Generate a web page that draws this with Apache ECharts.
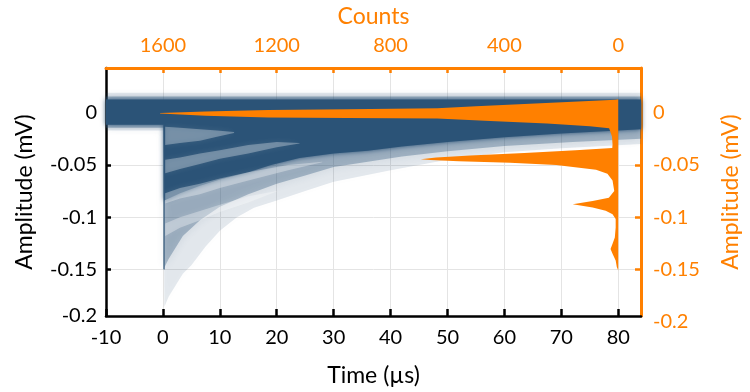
<!DOCTYPE html>
<html><head><meta charset="utf-8">
<script src="https://cdn.jsdelivr.net/npm/echarts@6/dist/echarts.min.js"></script>
<style>html,body{margin:0;padding:0;background:#fff}#c{width:750px;height:392px}</style>
</head><body><div id="c"></div>
<script>
// ---- axes ----
const timeMin = -10, timeMax = 84;
const countMin = -80, countMax = 1800;
const ampMin = -0.1945, ampMax = 0.0427;
const countTickValues = [0, 200, 400, 600, 800, 1000, 1200, 1400, 1600];
const countLabelValues = [0, 400, 800, 1200, 1600];
const ampTickValues = [0, -0.05, -0.1, -0.15];
const ampLabelValues = [0, -0.05, -0.1, -0.15, ampMin];

// ---- persistence traces (envelopes) ----
const faintT   = [-10, 0.15, 0.25, 1, 3.5, 5, 7.5, 10, 13, 16, 20, 25, 30, 40, 50, 60, 70, 84];
const faintTop = [0.019, 0.019, 0.019, 0.019, 0.019, 0.019, 0.019, 0.019, 0.019, 0.019, 0.019, 0.019, 0.019, 0.019, 0.019, 0.019, 0.019, 0.019];
const faintBot = [-0.017, -0.017, -0.186, -0.176, -0.154, -0.146, -0.128, -0.113, -0.100, -0.091, -0.084, -0.075, -0.066, -0.055, -0.045, -0.038, -0.034, -0.030];

const medT   = [-10, 0.15, 0.25, 1, 3.5, 6.5, 10, 15, 20, 25, 30, 36, 42, 50, 60, 72, 84];
const medTop = [0.0155, 0.0155, 0.0155, 0.0155, 0.0155, 0.0155, 0.0155, 0.0155, 0.0155, 0.0155, 0.0155, 0.0155, 0.0155, 0.0155, 0.0155, 0.0155, 0.0155];
const medBot = [-0.0145, -0.0145, -0.148, -0.140, -0.118, -0.103, -0.090, -0.078, -0.068, -0.060, -0.052, -0.047, -0.042, -0.037, -0.032, -0.028, -0.025];

const denseT   = [-10, 0.15, 0.25, 1, 3, 6.5, 10, 15, 19, 24, 30, 36, 42, 50, 60, 70, 80, 84];
const denseTop = [0.0125, 0.0125, 0.0125, 0.0125, 0.0125, 0.0125, 0.0125, 0.0125, 0.0125, 0.0125, 0.0125, 0.0125, 0.0125, 0.0125, 0.0125, 0.0125, 0.0125, 0.0125];
const denseBot = [-0.0115, -0.0115, -0.084, -0.082, -0.077, -0.070, -0.064, -0.057, -0.050, -0.0435, -0.039, -0.0365, -0.0325, -0.028, -0.0235, -0.020, -0.017, -0.016];

// lighter streaks between photon-number families
const gapAT = [0.4, 3, 6.5, 9.5, 12.5];
const gapATop = [-0.0135, -0.0145, -0.016, -0.017, -0.0185];
const gapABot = [-0.031, -0.029, -0.027, -0.023, -0.0195];
const gapBT = [0.4, 3, 6.5, 10, 15, 20, 24];
const gapBTop = [-0.045, -0.043, -0.039, -0.036, -0.031, -0.028, -0.029];
const gapBBot = [-0.058, -0.054, -0.049, -0.044, -0.039, -0.033, -0.0295];
const gapCT = [0.4, 3, 6.5, 10, 15, 22, 28];
const gapCTop = [-0.077, -0.072, -0.068, -0.063, -0.057, -0.050, -0.047];
const gapCBot = [-0.087, -0.082, -0.078, -0.072, -0.065, -0.055, -0.0475];
const gapDT = [0.4, 3, 6.5, 10, 15, 20];
const gapDTop = [-0.106, -0.100, -0.094, -0.088, -0.080, -0.075];
const gapDBot = [-0.118, -0.110, -0.103, -0.095, -0.086, -0.0755];

// rising edge at t = 0
const edgeT = [0.2, 0.2];
const edgeAmp = [-0.012, -0.15];

// ---- amplitude histogram (outline, top to bottom) ----
const histAmp = [0.0128, 0.0124, 0.0104, 0.0083, 0.0062, 0.0043, 0.0033, 0.0025, 0.0012, -0.0003,
  -0.0008, -0.0030, -0.0047, -0.0052, -0.0056, -0.0080, -0.0105, -0.0130, -0.0149, -0.0228, -0.0304,
  -0.0339, -0.0360, -0.0385, -0.0410, -0.0430, -0.0445, -0.0452, -0.0465, -0.0480, -0.0500, -0.0545,
  -0.0585, -0.0650, -0.0750, -0.0813, -0.0844, -0.0876, -0.0908, -0.0939, -0.0971, -0.1018, -0.1098,
  -0.1193, -0.1255, -0.1303, -0.1350, -0.1414, -0.1477, -0.1509];
const histCount = [0, 10, 160, 330, 500, 636, 950, 1230, 1450, 1610,
  1610, 1450, 1230, 950, 636, 450, 250, 100, 32, 22, 20,
  21, 150, 330, 520, 640, 694, 660, 560, 380, 218, 78,
  38, 20, 14, 33, 90, 160, 90, 44, 20, 9, 9,
  12, 20, 27, 20, 9, 5, 0];

const BLUE = '43,83,119';
const ORANGE = '#ff8000';
const FONT = 'Lato';

function bandSeries(name, T, top, bot, fill, blur, z) {
  const data = T.map((t, i) => [t, top[i], bot[i]]);
  return {
    name, type: 'custom', coordinateSystem: 'cartesian2d', xAxisIndex: 0, yAxisIndex: 0,
    silent: true, z, data, encode: { x: 0, y: [1, 2] },
    renderItem(params, api) {
      if (params.dataIndex !== 0) return null;
      const pts = [];
      for (let i = 0; i < T.length; i++) pts.push(api.coord([T[i], top[i]]));
      for (let i = T.length - 1; i >= 0; i--) pts.push(api.coord([T[i], bot[i]]));
      return { type: 'polygon', shape: { points: pts },
        style: { fill, shadowBlur: blur, shadowColor: fill } };
    }
  };
}

const histData = histAmp.map((a, i) => [histCount[i], a]);
const histSeries = {
  name: 'hist', type: 'custom', coordinateSystem: 'cartesian2d', xAxisIndex: 1, yAxisIndex: 0,
  silent: true, z: 10, data: histData, encode: { x: 0, y: 1 },
  renderItem(params, api) {
    if (params.dataIndex !== 0) return null;
    const pts = [api.coord([0, histAmp[0]])];
    for (let i = 0; i < histAmp.length; i++) pts.push(api.coord([histCount[i], histAmp[i]]));
    pts.push(api.coord([0, histAmp[histAmp.length - 1]]));
    return { type: 'polygon', shape: { points: pts }, style: { fill: ORANGE } };
  }
};

const ampFmt = v => (Math.abs(v - ampMin) < 1e-6 ? '-0.2' : String(v));
const labelStyle = (color) => ({ color, fontSize: 20, fontFamily: FONT });
const titleStyle = (color) => ({ color, fontSize: 23, fontFamily: FONT });

const option = {
  animation: false,
  backgroundColor: '#fff',
  grid: { left: 106, right: 104, top: 66, bottom: 76 },
  xAxis: [
    {
      type: 'value', position: 'bottom', min: timeMin, max: timeMax, interval: 10,
      name: 'Time (µs)', nameLocation: 'middle', nameGap: 48,
      nameTextStyle: titleStyle('#000'),
      axisLine: { show: true, onZero: false, lineStyle: { color: '#000', width: 2.5 } },
      axisTick: { show: true, inside: true, length: 7, lineStyle: { color: '#000', width: 2.5 } },
      axisLabel: { ...labelStyle('#000'), margin: 12, showMaxLabel: false },
      splitLine: { show: true, lineStyle: { color: '#e4e4e4', width: 1 } }
    },
    {
      type: 'value', position: 'top', inverse: true, min: countMin, max: countMax,
      name: 'Counts', nameLocation: 'middle', nameGap: 40,
      nameTextStyle: titleStyle(ORANGE),
      axisLine: { show: true, onZero: false, lineStyle: { color: ORANGE, width: 3 } },
      axisTick: { show: true, inside: true, length: 5, customValues: countTickValues, lineStyle: { color: ORANGE, width: 2.5 } },
      axisLabel: { ...labelStyle(ORANGE), margin: 12, customValues: countLabelValues, formatter: v => String(v) },
      splitLine: { show: false }
    }
  ],
  yAxis: [
    {
      type: 'value', position: 'left', min: ampMin, max: ampMax,
      name: 'Amplitude (mV)', nameLocation: 'middle', nameGap: 70, nameRotate: 90,
      nameTextStyle: titleStyle('#000'),
      axisLine: { show: true, onZero: false, lineStyle: { color: '#000', width: 2.5 } },
      axisTick: { show: true, inside: true, length: 5, customValues: ampTickValues, lineStyle: { color: '#000', width: 2.5 } },
      axisLabel: { ...labelStyle('#000'), margin: 9, customValues: ampLabelValues, formatter: ampFmt },
      splitLine: { show: true, lineStyle: { color: '#e4e4e4', width: 1 } }
    },
    {
      type: 'value', position: 'right', min: ampMin, max: ampMax,
      name: 'Amplitude (mV)', nameLocation: 'middle', nameGap: 78, nameRotate: 90,
      nameTextStyle: titleStyle(ORANGE),
      axisLine: { show: true, onZero: false, lineStyle: { color: ORANGE, width: 3 } },
      axisTick: { show: true, inside: true, length: 6, customValues: ampTickValues, lineStyle: { color: ORANGE, width: 2.5 } },
      axisLabel: {
        ...labelStyle(ORANGE), margin: 12, customValues: ampLabelValues,
        formatter: v => (Math.abs(v - ampMin) < 1e-6 ? '{low|-0.2}' : String(v)),
        rich: { low: { ...labelStyle(ORANGE), padding: [11, 0, 0, 0] } }
      },
      splitLine: { show: false }
    }
  ],
  series: [
    bandSeries('faint', faintT, faintTop, faintBot, `rgba(${BLUE},0.12)`, 8, 2),
    bandSeries('medium', medT, medTop, medBot, `rgba(${BLUE},0.33)`, 9, 3),
    bandSeries('dense', denseT, denseTop, denseBot, `rgba(${BLUE},1)`, 5, 4),
    bandSeries('gapA', gapAT, gapATop, gapABot, 'rgba(255,255,255,0.3)', 6, 5),
    bandSeries('gapB', gapBT, gapBTop, gapBBot, 'rgba(255,255,255,0.3)', 6, 5),
    bandSeries('gapC', gapCT, gapCTop, gapCBot, 'rgba(255,255,255,0.32)', 6, 5),
    bandSeries('gapD', gapDT, gapDTop, gapDBot, 'rgba(255,255,255,0.32)', 6, 5),
    {
      name: 'edge', type: 'line', xAxisIndex: 0, yAxisIndex: 0, z: 6, silent: true,
      data: edgeT.map((t, i) => [t, edgeAmp[i]]), symbol: 'none',
      lineStyle: { color: `rgba(${BLUE},0.8)`, width: 1.5 }
    },
    histSeries
  ]
};

const chart = echarts.init(document.getElementById('c'), null, { renderer: 'canvas' });
chart.setOption(option);
</script></body></html>
